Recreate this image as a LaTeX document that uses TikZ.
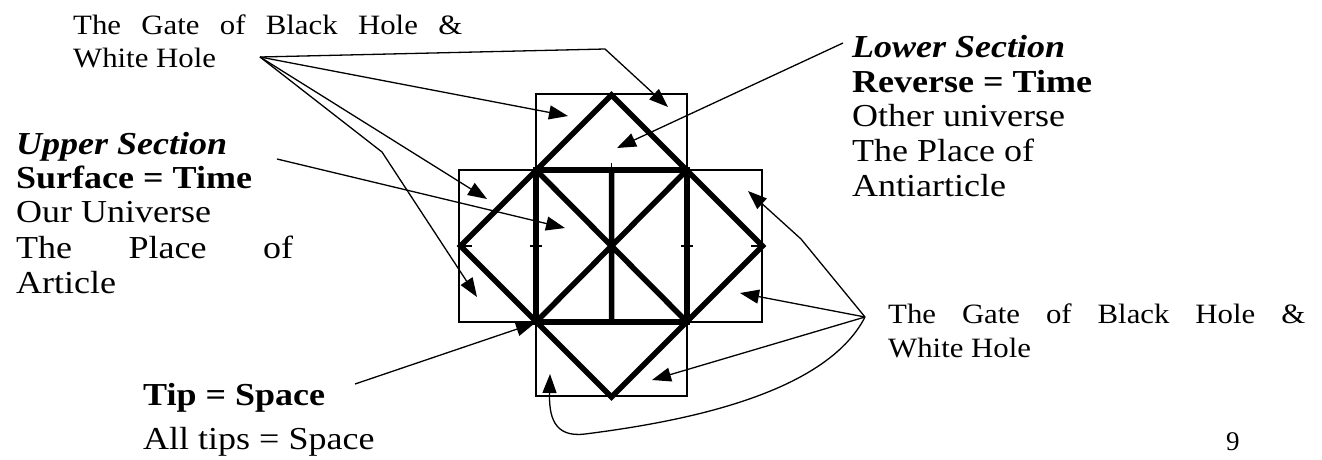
\documentclass[tikz,border=0pt]{standalone}
\usepackage{fontspec}
\setmainfont{Liberation Serif}
\newfontfamily\bigfont[FakeStretch=1.125]{Liberation Serif}
\newfontfamily\gatefont[FakeStretch=1.1]{Liberation Serif}
\usetikzlibrary{arrows.meta}
\begin{document}
\begin{tikzpicture}[x=1pt,y=-1pt,
  thinl/.style={line width=1.4pt},
  thickl/.style={line width=5.5pt,line join=miter},
  arr/.style={line width=1.3pt,-{Triangle[length=19pt,width=14pt]}},
  txt/.style={inner sep=0pt,anchor=base west},
  big/.style={txt,font=\bigfont\fontsize{32}{34}\selectfont},
  gate/.style={txt,font=\gatefont\fontsize{28}{33}\selectfont}]
\useasboundingbox (0,0) rectangle (1322,459);
% boxes
\draw[thinl] (536,94) rectangle (687,170);
\draw[thinl] (459,170) rectangle (762,322);
\draw[thinl] (536,322) rectangle (687,396);
% thick figure
\coordinate (T) at (611.5,95);
\coordinate (L) at (460.5,246);
\coordinate (B) at (611.5,397);
\coordinate (R) at (762.5,246);
\coordinate (s1) at (536,170);
\coordinate (s2) at (687,170);
\coordinate (s3) at (687,322);
\coordinate (s4) at (536,322);
\coordinate (mt) at (611.5,170);
\coordinate (mb) at (611.5,322);
\draw[thickl] (T) -- (L) -- (B) -- (R) -- cycle;
\draw[thickl] (s1) -- (s2) -- (s3) -- (s4) -- cycle;
\draw[thickl] (s1) -- (s3) (s2) -- (s4) (mt) -- (mb);
% small ticks
\draw[thinl] (611.5,163) -- (mt);
\draw[thinl] (460,246) -- (472,246) (530,246) -- (542,246) (681,246) -- (693,246) (751,246) -- (763,246);
% texts
\node[gate] (g1a) at (73,34) {\makebox[389pt][s]{The Gate of Black Hole \&}};
\node[gate] (g1b) at (73,67) {White Hole};
\node[big] (u1) at (16,154) {\bfseries\itshape Upper Section};
\node[big] (u2) at (16,188) {\bfseries Surface = Time};
\node[big] (u3) at (16,222) {Our Universe};
\node[big] (u4) at (16,258) {\makebox[277pt][s]{The Place of}};
\node[big] (u5) at (16,293) {Article};
\node[big] (l1) at (852,57) {\bfseries\itshape Lower Section};
\node[big] (l2) at (852,92) {\bfseries Reverse = Time};
\node[big] (l3) at (852,126) {Other universe};
\node[big] (l4) at (852,161) {The Place of};
\node[big] (l5) at (852,196) {Antiarticle};
\node[big] (t1) at (143,405) {\bfseries Tip = Space};
\node[big] (t2) at (143,449) {All tips = Space};
\node[gate] (g2a) at (888,323) {\makebox[417pt][s]{The Gate of Black Hole \&}};
\node[gate] (g2b) at (888,357) {White Hole};
\node[txt,font=\fontsize{27}{30}\selectfont] (pg) at (1226,450) {9};
% connector ends
\coordinate (gl) at (260,57);
\coordinate (gr) at (865,317);
\coordinate (us) at (277,159);
\coordinate (ls) at (843,43);
\coordinate (ts) at (355,384);
\coordinate (a1) at (568,116);
\coordinate (a2) at (668,107);
\coordinate (a3) at (487,199);
\coordinate (a4) at (477,297);
\coordinate (a5) at (565,228);
\coordinate (a6) at (617,148);
\coordinate (a7) at (535,323);
\coordinate (b1) at (748,191);
\coordinate (b2) at (740,293);
\coordinate (b3) at (652,380);
\coordinate (b4) at (550,374);
% arrows
\draw[arr] (gl) -- (605,49) -- (a2);
\draw[arr] (gl) -- (a1);
\draw[arr] (gl) -- (a3);
\draw[arr] (gl) -- (382,152) -- (a4);
\draw[arr] (us) -- (a5);
\draw[arr] (ls) -- (a6);
\draw[arr] (ts) -- (a7);
\draw[arr] (gr) -- (801,239) -- (b1);
\draw[arr] (gr) -- (b2);
\draw[arr] (gr) -- (b3);
\draw[arr] (gr) .. controls (825,395) and (680,422) .. (585,434) .. controls (553,438) and (549,415) .. (b4);
\end{tikzpicture}
\end{document}
